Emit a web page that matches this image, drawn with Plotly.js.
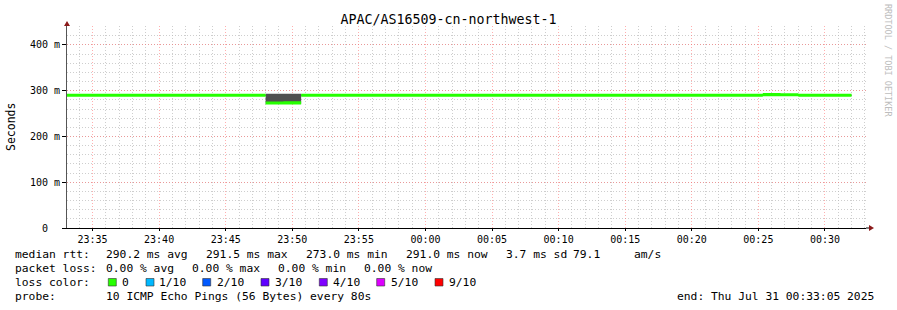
<!DOCTYPE html>
<html>
<head>
<meta charset="utf-8">
<script src="https://cdn.plot.ly/plotly-3.0.1.min.js"></script>
<style>
  html, body { margin: 0; padding: 0; background: #fff; }
  #chart { width: 897px; height: 310px; }
</style>
</head>
<body>
<div id="chart"></div>
<script>
// ---- data (80 s steps starting 2025-07-30 23:32:00 UTC) ----
const startTime = Date.UTC(2025, 6, 30, 23, 32, 0);
const stepMs = 80000;
// median rtt in ms for each 80 s interval
const medianMs = [
  290.1, 290.0, 290.2, 289.9, 290.0, 290.1, 290.0, 290.2, 290.0, 289.9, 290.1, 290.0,
  273.0, 273.5,
  290.0, 290.1, 290.0, 289.9, 290.2, 290.0, 290.1, 290.0, 289.9, 290.0, 290.1, 290.0,
  290.2, 290.0, 289.9, 290.1, 290.0, 290.0, 290.1, 289.9, 290.0, 290.2, 290.0, 290.1,
  290.0, 289.9,
  291.5, 291.4,
  290.0, 290.1, 290.2
];
// smoke (spread of the pings) lower / upper bound in ms
const smokeLoMs = [
  289.0, 289.0, 289.0, 289.0, 289.0, 289.0, 289.0, 289.0, 289.0, 289.0, 289.0, 289.0,
  271.8, 271.8,
  289.0, 289.0, 289.0, 289.0, 289.0, 289.0, 289.0, 289.0, 289.0, 289.0, 289.0, 289.0,
  289.0, 289.0, 289.0, 289.0, 289.0, 289.0, 289.0, 289.0, 289.0, 289.0, 289.0, 289.0,
  289.0, 289.0,
  290.8, 290.8,
  289.0, 289.0, 289.0
];
const smokeHiMs = [
  291.0, 291.0, 291.0, 291.0, 291.0, 291.0, 291.0, 291.0, 291.0, 291.0, 291.0, 291.0,
  293.3, 293.3,
  291.0, 291.0, 291.0, 291.0, 291.0, 291.0, 291.0, 291.0, 291.0, 291.0, 291.0, 291.0,
  291.0, 291.0, 291.0, 291.0, 291.0, 291.0, 291.0, 291.0, 291.0, 291.0, 291.0, 291.0,
  291.0, 291.0,
  292.2, 292.2,
  291.0, 291.0, 291.0
];
const yTickVals = [0, 100, 200, 300, 400];
const yTickText = ['0\u00a0\u00a0', '100 m', '200 m', '300 m', '400 m'];
const lossLabels = ['0', '1/10', '2/10', '3/10', '4/10', '5/10', '9/10'];
const lossColors = ['#26ff00', '#00b8ff', '#0059ff', '#5e00ff', '#7e00ff', '#dd00ff', '#ff0000'];
const titleText = 'APAC/AS16509-cn-northwest-1';
const statsLine1 = [
  ['median rtt:', 16], ['290.2 ms avg', 107.3], ['291.5 ms max', 207.3], ['273.0 ms min', 307.3],
  ['291.0 ms now', 407.3], ['3.7 ms sd', 507.3], ['79.1', 574], ['am/s', 635]
];
const statsLine2 = [
  ['packet loss:', 16], ['0.00 % avg', 107.3], ['0.00 % max', 193.3], ['0.00 % min', 279.3], ['0.00 % now', 365.3]
];
const lossTextX = [123.3, 160, 218.3, 276, 334, 391.7, 450];
const lossBoxX = [108.3, 146, 202.7, 261, 319.3, 376.7, 435];
const probeLine = [['probe:', 16], ['10 ICMP Echo Pings (56 Bytes) every 80s', 107.3], ['end: Thu Jul 31 00:33:05 2025', 678]];

// ---- geometry helpers ----
const L = 67, T = 26, PW = 799, PH = 202;
const px = v => (v - L) / PW;
const py = v => (T + PH - v) / PH;
const FONT = 'DejaVu Sans Mono, monospace';
const TXT_DX = -2; // annotation inner offset compensation

// ---- build step series ----
const n = medianMs.length;
const xs = [];
for (let i = 0; i <= n; i++) xs.push(startTime + i * stepMs);
const ext = a => a.concat([a[a.length - 1]]);
const halfLine = 3.3; // median band half-thickness (ms)
const medLo = ext(medianMs.map(v => v - halfLine));
const medHi = ext(medianMs.map(v => v + halfLine));

const noLine = { width: 0, color: 'rgba(0,0,0,0)', shape: 'hv' };
const traces = [
  { x: xs, y: ext(smokeLoMs), mode: 'lines', line: noLine, hoverinfo: 'skip', showlegend: false },
  { x: xs, y: ext(smokeHiMs), mode: 'lines', line: noLine, fill: 'tonexty', fillcolor: '#505050', hoverinfo: 'skip', showlegend: false },
  { x: xs, y: medLo, mode: 'lines', line: noLine, hoverinfo: 'skip', showlegend: false },
  { x: xs, y: medHi, mode: 'lines', line: noLine, fill: 'tonexty', fillcolor: lossColors[0], hoverinfo: 'skip', showlegend: false }
];

const ann = [];
function txt(t, x, y, opts) {
  ann.push(Object.assign({
    text: t.replace(/ /g, '\u00a0'), xref: 'paper', yref: 'paper', x: px(x + TXT_DX), y: py(y),
    xanchor: 'left', yanchor: 'middle', showarrow: false,
    font: { family: FONT, size: 11.3, color: '#000' }, borderpad: 0
  }, opts || {}));
}
statsLine1.forEach(([t, x]) => txt(t, x, 254));
statsLine2.forEach(([t, x]) => txt(t, x, 268));
txt('loss color:', 16, 282);
lossLabels.forEach((t, i) => txt(t, lossTextX[i], 282));
probeLine.forEach(([t, x]) => txt(t, x, 296));
// y axis title
ann.push({ text: 'Seconds', xref: 'paper', yref: 'paper', x: px(11), y: py(127), textangle: -90,
  xanchor: 'center', yanchor: 'middle', showarrow: false, font: { family: FONT, size: 11.5, color: '#000' } });
// watermark
ann.push({ text: 'RRDTOOL / TOBI OETIKER', xref: 'paper', yref: 'paper', x: px(888), y: py(60), textangle: 90,
  xanchor: 'center', yanchor: 'middle', showarrow: false, font: { family: FONT, size: 8.5, color: '#bdbdbd' } });

const shapes = [];
lossColors.forEach((c, i) => {
  shapes.push({ type: 'rect', xref: 'paper', yref: 'paper', x0: px(lossBoxX[i]), x1: px(lossBoxX[i] + 8),
    y0: py(286), y1: py(278.5), fillcolor: c, line: { color: '#333', width: 0.6 } });
});
// axis arrow heads
shapes.push({ type: 'path', xref: 'paper', yref: 'paper', xsizemode: 'pixel', ysizemode: 'pixel',
  xanchor: 0, yanchor: 1, path: 'M -3 0 L 3 0 L 0 5 Z', fillcolor: '#8b1a1a', line: { width: 0 } });
shapes.push({ type: 'line', xref: 'paper', yref: 'paper', xsizemode: 'pixel', xanchor: 1,
  x0: 0, x1: 3, y0: 0, y1: 0, line: { color: '#000', width: 1 } });
shapes.push({ type: 'path', xref: 'paper', yref: 'paper', xsizemode: 'pixel', ysizemode: 'pixel',
  xanchor: 1, yanchor: 0, path: 'M 3 -3 L 3 3 L 8 0 Z', fillcolor: '#8b1a1a', line: { width: 0 } });

const majorGrid = 'rgba(255,110,110,0.55)';
const minorGrid = 'rgba(185,185,185,0.7)';
const layout = {
  width: 897, height: 310,
  margin: { l: L, r: 897 - L - PW, t: T, b: 310 - T - PH, pad: 0 },
  paper_bgcolor: '#fff', plot_bgcolor: '#fff',
  font: { family: FONT, size: 10, color: '#000' },
  title: { text: titleText, x: 0.5, xref: 'container', xanchor: 'center', y: 1 - 19 / 310, yref: 'container', yanchor: 'middle',
    font: { family: FONT, size: 13.3, color: '#000' } },
  showlegend: false,
  xaxis: {
    type: 'date',
    range: ['2025-07-30 23:33:05', '2025-07-31 00:33:05'],
    tickmode: 'linear', tick0: '2025-07-30 23:35:00', dtick: 300000, tickformat: '%H:%M',
    showgrid: true, gridcolor: majorGrid, griddash: '1px,2px', gridwidth: 1,
    minor: { tickmode: 'linear', tick0: '2025-07-30 23:35:00', dtick: 60000, showgrid: true, gridcolor: minorGrid, griddash: '1px,2px', gridwidth: 1 },
    showline: true, linecolor: '#000', linewidth: 1,
    ticks: 'outside', ticklen: 2, tickcolor: '#000',
    zeroline: false, fixedrange: true,
    tickfont: { family: FONT, size: 10, color: '#000' }
  },
  yaxis: {
    range: [0, 441.5],
    tickmode: 'array', tickvals: yTickVals, ticktext: yTickText,
    showgrid: true, gridcolor: majorGrid, griddash: '1px,2px', gridwidth: 1,
    minor: { tickmode: 'linear', tick0: 0, dtick: 20, showgrid: true, gridcolor: minorGrid, griddash: '1px,2px', gridwidth: 1 },
    showline: true, linecolor: '#555', linewidth: 1,
    ticks: 'outside', ticklen: 4, tickcolor: '#000',
    zeroline: false, fixedrange: true,
    tickfont: { family: FONT, size: 10, color: '#000' }
  },
  annotations: ann,
  shapes: shapes
};

Plotly.newPlot('chart', traces, layout, { displayModeBar: false, staticPlot: true });
</script>
</body>
</html>
